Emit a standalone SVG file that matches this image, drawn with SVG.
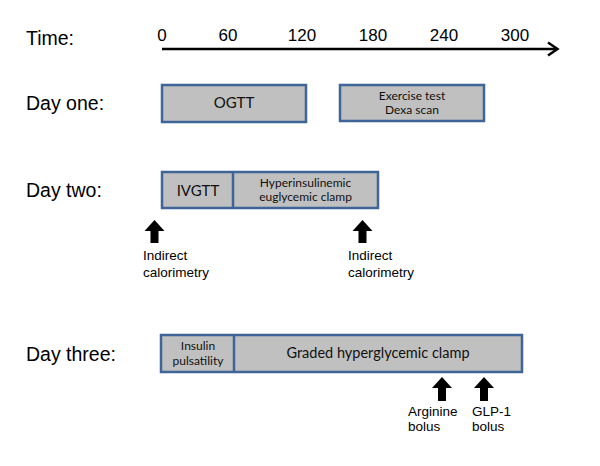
<svg xmlns="http://www.w3.org/2000/svg" width="600" height="466" viewBox="0 0 600 466">
<style>
.lbl{font-family:"Liberation Sans",Arial,sans-serif;fill:#000}
.row{font-size:19.5px}
.tick{font-size:17px;text-anchor:middle}
.note{font-size:13.5px}
.box{fill:#c0c0c0;stroke:#3f6598;stroke-width:2.5}
.div{stroke:#3f6598;stroke-width:2.5}
.bt{font-family:Lato,"Liberation Sans",sans-serif;fill:#111;text-anchor:middle}
.big{font-size:15px}
.mid{font-size:14.5px}
.sm{font-size:12px}
.ar{fill:#000}
</style>
<rect width="600" height="466" fill="#fff"/>
<g id="labels">
<text class="lbl row" x="26" y="45">Time:</text>
<text class="lbl row" x="26" y="110">Day one:</text>
<text class="lbl row" x="26" y="197">Day two:</text>
<text class="lbl row" x="26" y="361">Day three:</text>
</g>
<g id="ticks">
<text class="lbl tick" x="162" y="41">0</text>
<text class="lbl tick" x="228" y="41">60</text>
<text class="lbl tick" x="302" y="41">120</text>
<text class="lbl tick" x="373" y="41">180</text>
<text class="lbl tick" x="444" y="41">240</text>
<text class="lbl tick" x="515" y="41">300</text>
</g>
<g id="connectors">
<line x1="162" y1="49" x2="556" y2="49" stroke="#000" stroke-width="2.5"/>
<polyline points="548,42.5 557.5,49 548,55.5" fill="none" stroke="#000" stroke-width="2.5"/>
</g>
<g id="ogtt">
<rect class="box" x="162" y="85" width="144" height="37"/>
<text class="bt big" x="234" y="108">OGTT</text>
</g>
<g id="exercise">
<rect class="box" x="340" y="85" width="144" height="36"/>
<text class="bt sm" x="412" y="100">Exercise test</text>
<text class="bt sm" x="412" y="114">Dexa scan</text>
</g>
<g id="daytwo">
<rect class="box" x="162" y="172" width="216" height="36"/>
<line class="div" x1="233" y1="172" x2="233" y2="208"/>
<text class="bt big" x="198" y="196">IVGTT</text>
<text class="bt sm" x="305.5" y="187">Hyperinsulinemic</text>
<text class="bt sm" x="305.5" y="201">euglycemic clamp</text>
</g>
<g id="daythree">
<rect class="box" x="161" y="335" width="361" height="37"/>
<line class="div" x1="234" y1="335" x2="234" y2="372"/>
<text class="bt sm" x="198" y="350">Insulin</text>
<text class="bt sm" x="198" y="365">pulsatility</text>
<text class="bt mid" x="378" y="358">Graded hyperglycemic clamp</text>
</g>
<g id="ic1">
<path class="ar" d="M154.5,220 L164.5,231 L158.5,231 L158.5,243 L150.5,243 L150.5,231 L144.5,231 Z"/>
<text class="lbl note" x="143" y="260">Indirect</text>
<text class="lbl note" x="143" y="277">calorimetry</text>
</g>
<g id="ic2">
<path class="ar" d="M362.5,220 L372.5,231 L366.5,231 L366.5,243 L358.5,243 L358.5,231 L352.5,231 Z"/>
<text class="lbl note" x="348" y="260">Indirect</text>
<text class="lbl note" x="348" y="277">calorimetry</text>
</g>
<g id="arginine">
<path class="ar" d="M442,377 L452,388 L446,388 L446,401 L438,401 L438,388 L432,388 Z"/>
<text class="lbl note" x="408" y="416">Arginine</text>
<text class="lbl note" x="408" y="431">bolus</text>
</g>
<g id="glp1">
<path class="ar" d="M484,377 L494,388 L488,388 L488,401 L480,401 L480,388 L474,388 Z"/>
<text class="lbl note" x="472" y="416">GLP-1</text>
<text class="lbl note" x="472" y="431">bolus</text>
</g>
</svg>
